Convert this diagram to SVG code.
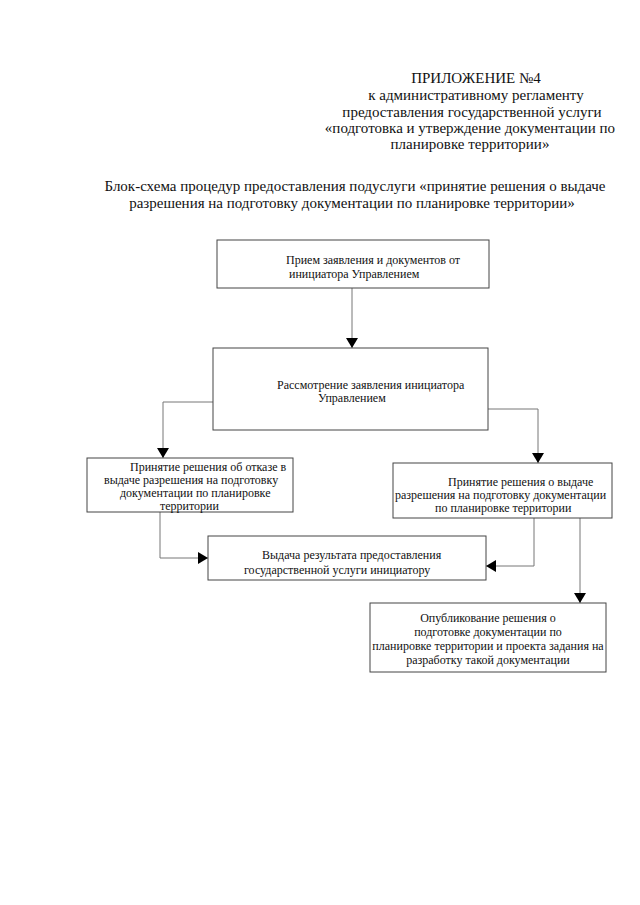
<svg xmlns="http://www.w3.org/2000/svg" width="640" height="905" viewBox="0 0 640 905" font-family="'Liberation Serif', 'DejaVu Serif', serif">
<style>
text{font-family:'Liberation Serif','DejaVu Serif',serif;fill:#111}
.h{font-size:15px}
.t{font-size:12px}
.box{fill:#fff;stroke:#444;stroke-width:1}
.c{fill:none;stroke:#777;stroke-width:1}
</style>
<defs>
<marker id="a" viewBox="0 0 10 12" refX="10" refY="6" markerWidth="10" markerHeight="12" markerUnits="userSpaceOnUse" orient="auto">
<path d="M0,0 L10,6 L0,12 Z" fill="#000"/>
</marker>
</defs>
<rect width="640" height="905" fill="#fff"/>
<g id="header" class="h" text-anchor="middle">
<text x="476" y="83">ПРИЛОЖЕНИЕ №4</text>
<text x="476" y="100">к административному регламенту</text>
<text x="472" y="117">предоставления государственной услуги</text>
<text x="470" y="133">«подготовка и утверждение документации по</text>
<text x="470" y="149">планировке территории»</text>
<text x="355" y="191">Блок-схема процедур предоставления подуслуги «принятие решения о выдаче</text>
<text x="352" y="208">разрешения на подготовку документации по планировке территории»</text>
</g>
<g id="connectors">
<path class="c" d="M352,288 V348" marker-end="url(#a)"/>
<path class="c" d="M213,402 H163 V458" marker-end="url(#a)"/>
<path class="c" d="M488,409 H538 V463" marker-end="url(#a)"/>
<path class="c" d="M160,512 V558 H208" marker-end="url(#a)"/>
<path class="c" d="M534,518 V566 H486" marker-end="url(#a)"/>
<path class="c" d="M580,518 V603" marker-end="url(#a)"/>
</g>
<g id="n1">
<rect class="box" x="217" y="240" width="272" height="48"/>
<text class="t" x="286" y="264">Прием заявления и документов от</text>
<text class="t" x="289" y="278">инициатора Управлением</text>
</g>
<g id="n2">
<rect class="box" x="213" y="348" width="275" height="82"/>
<text class="t" x="277" y="389">Рассмотрение заявления инициатора</text>
<text class="t" x="318" y="402">Управлением</text>
</g>
<g id="n3">
<rect class="box" x="87" y="458" width="206" height="54"/>
<text class="t" x="130" y="471">Принятие решения об отказе в</text>
<text class="t" x="104" y="484">выдаче разрешения на подготовку</text>
<text class="t" x="120" y="497">документации по планировке</text>
<text class="t" x="160" y="510">территории</text>
</g>
<g id="n4">
<rect class="box" x="393" y="463" width="219" height="55"/>
<text class="t" x="448" y="486">Принятие решения о выдаче</text>
<text class="t" x="395" y="499">разрешения на подготовку документации</text>
<text class="t" x="435" y="512">по планировке территории</text>
</g>
<g id="n5">
<rect class="box" x="208" y="536" width="278" height="44"/>
<text class="t" x="262" y="559">Выдача результата предоставления</text>
<text class="t" x="244" y="574">государственной услуги инициатору</text>
</g>
<g id="n6">
<rect class="box" x="370" y="603" width="236" height="69"/>
<g text-anchor="middle">
<text class="t" x="488" y="622">Опубликование решения о</text>
<text class="t" x="488" y="636">подготовке документации по</text>
<text class="t" x="488" y="650">планировке территории и проекта задания на</text>
<text class="t" x="488" y="664">разработку такой документации</text>
</g>
</g>
</svg>
